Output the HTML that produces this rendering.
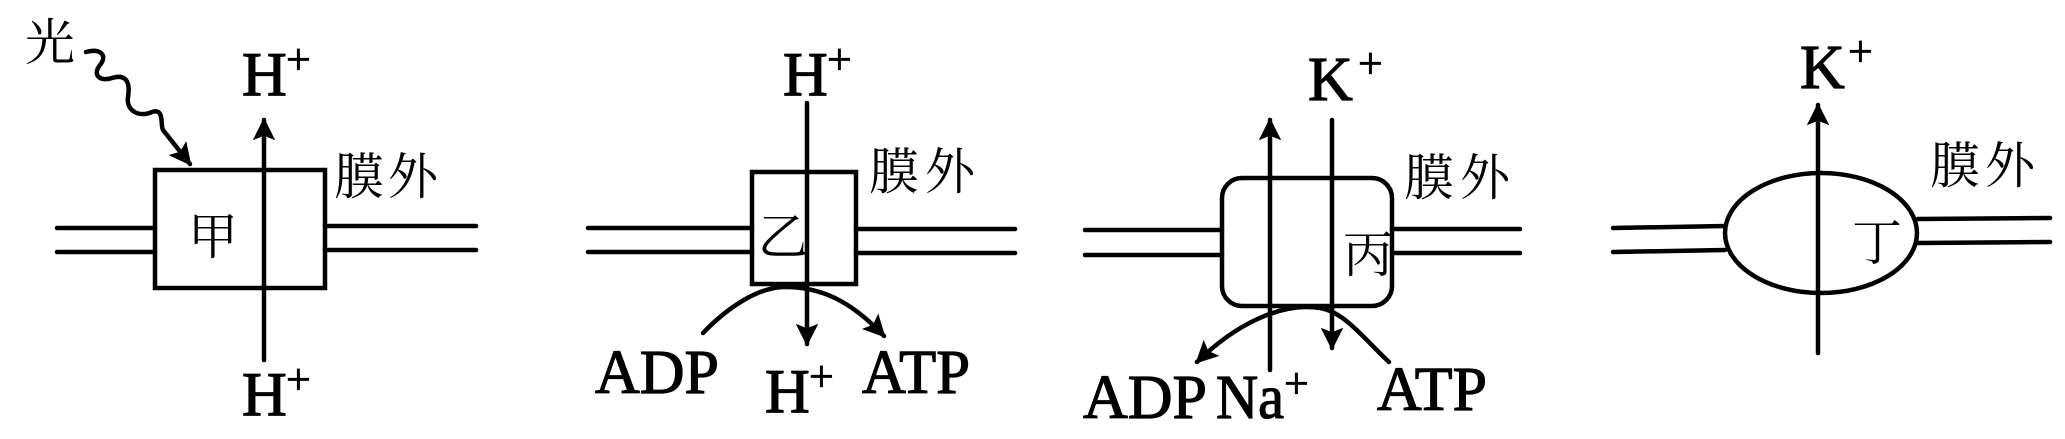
<!DOCTYPE html>
<html><head><meta charset="utf-8"><style>
html,body{margin:0;padding:0;background:#fff;}
svg{display:block;}
.l{font-family:"Liberation Serif",serif;font-size:62px;fill:#000;stroke:#000;stroke-width:1.2px;}
.s{font-family:"Liberation Serif",serif;font-size:44px;fill:#000;stroke:#000;stroke-width:0.8px;}
.c{font-family:"Noto Serif CJK SC","Liberation Serif",serif;font-size:50px;fill:#000;}
</style></head><body>
<svg width="2065" height="439" viewBox="0 0 2065 439" xmlns="http://www.w3.org/2000/svg">
<defs>
<marker id="ah" viewBox="0 0 10 10" refX="9" refY="5" markerWidth="6" markerHeight="5" orient="auto" markerUnits="strokeWidth">
<path d="M0,0 L10,5 L0,10 L2,5 z" fill="#000"/></marker>
</defs>
<g stroke="#000" stroke-width="4.5" fill="none" stroke-linecap="round">
<line x1="57" y1="228" x2="155" y2="228"/><line x1="57" y1="252" x2="155" y2="252"/>
<line x1="325" y1="226" x2="476" y2="226"/><line x1="325" y1="250" x2="476" y2="250"/>
<rect x="155" y="170" width="170" height="118"/>
<line x1="264" y1="360" x2="264" y2="120" marker-end="url(#ah)"/>
<path d="M86,52 C100,48 108,55 100,65 C92,75 100,82 112,78 C128,73 130,85 128,97 C126,110 138,118 152,112 C165,108 160,125 163,130 L190,164" marker-end="url(#ah)"/>
<line x1="588" y1="228" x2="752" y2="228"/><line x1="588" y1="252" x2="752" y2="252"/>
<line x1="856" y1="229" x2="1015" y2="229"/><line x1="856" y1="253" x2="1015" y2="253"/>
<rect x="752" y="172" width="104" height="112"/>
<line x1="807" y1="103" x2="807" y2="344" marker-end="url(#ah)"/>
<path d="M703,333 C730,305 760,287 785,287 C820,287 850,300 884,336" marker-end="url(#ah)"/>
<line x1="1085" y1="230" x2="1222" y2="230"/><line x1="1085" y1="255" x2="1222" y2="255"/>
<line x1="1392" y1="229" x2="1520" y2="229"/><line x1="1392" y1="253" x2="1520" y2="253"/>
<rect x="1222" y="178" width="170" height="128" rx="20"/>
<line x1="1270" y1="370" x2="1270" y2="120" marker-end="url(#ah)"/>
<line x1="1332" y1="120" x2="1332" y2="348" marker-end="url(#ah)"/>
<path d="M1389,362 C1365,340 1345,312 1320,308 C1280,302 1235,325 1197,362" marker-end="url(#ah)"/>
<line x1="1613" y1="228" x2="1725" y2="226"/><line x1="1613" y1="252" x2="1725" y2="250"/>
<line x1="1918" y1="219" x2="2050" y2="218"/><line x1="1918" y1="243" x2="2050" y2="242"/>
<ellipse cx="1821" cy="233" rx="96" ry="60"/>
<line x1="1818" y1="353" x2="1818" y2="105" marker-end="url(#ah)"/>
</g>
<text class="c" x="25" y="60">光</text>
<text class="l" x="242" y="95">H</text><text class="s" x="286" y="74">+</text>
<text class="l" x="242" y="415">H</text><text class="s" x="286" y="394">+</text>
<text class="c" x="334" y="194" textLength="104">膜外</text>
<text class="c" x="188" y="254">甲</text>
<text class="l" x="783" y="95">H</text><text class="s" x="827" y="74">+</text>
<text class="c" x="869" y="189" textLength="106">膜外</text>
<text class="c" x="758" y="254">乙</text>
<text class="l" x="595" y="393" textLength="124" lengthAdjust="spacingAndGlyphs">ADP</text>
<text class="l" x="765" y="412">H</text><text class="s" x="809" y="391">+</text>
<text class="l" x="862" y="393" textLength="108" lengthAdjust="spacingAndGlyphs">ATP</text>
<text class="l" x="1308" y="100">K</text><text class="s" x="1358" y="78">+</text>
<text class="c" x="1404" y="195" textLength="106">膜外</text>
<text class="c" x="1343" y="272">丙</text>
<text class="l" x="1083" y="418" textLength="124" lengthAdjust="spacingAndGlyphs">ADP</text>
<text class="l" x="1216" y="418" textLength="68" lengthAdjust="spacingAndGlyphs">Na</text>
<text class="s" x="1284" y="398">+</text>
<text class="l" x="1377" y="410" textLength="110" lengthAdjust="spacingAndGlyphs">ATP</text>
<text class="l" x="1800" y="88">K</text><text class="s" x="1848" y="66">+</text>
<text class="c" x="1930" y="183" textLength="105">膜外</text>
<text class="c" x="1852" y="260">丁</text>
</svg>
</body></html>
